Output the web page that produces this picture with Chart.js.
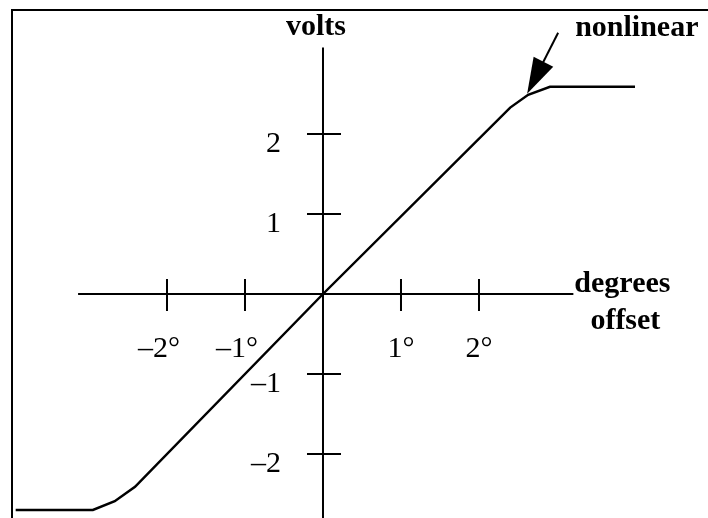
<!DOCTYPE html>
<html>
<head>
<meta charset="utf-8">
<script src="https://cdn.jsdelivr.net/npm/chart.js@4.4.1/dist/chart.umd.min.js"></script>
<style>
  html, body { margin: 0; padding: 0; background: #fff; overflow: hidden; }
  #wrap { position: relative; width: 708px; height: 518px; overflow: hidden; }
  #frame { position: absolute; left: 11px; top: 9px; width: 720px; height: 540px;
           border-left: 2px solid #000; border-top: 2px solid #000; pointer-events: none; }
</style>
</head>
<body>
<div id="wrap">
  <canvas id="chart"></canvas>
  <div id="frame"></div>
</div>
<script>
// response curve (degrees offset -> volts)
const offsetDeg = [-3.94, -2.95, -2.67, -2.41, 0, 2.40, 2.63, 2.91, 4.0];
const volts = [-2.70, -2.70, -2.59, -2.41, 0, 2.33, 2.49, 2.59, 2.59];

const xTicks = [-2, -1, 1, 2];
const xTickLabels = ['\u20132\u00B0', '\u20131\u00B0', '1\u00B0', '2\u00B0'];
const yTicks = [-2, -1, 1, 2];
const yTickLabels = ['\u20132', '\u20131', '1', '2'];

const xAxisRange = [-3.14, 3.21];
const yAxisRange = [-2.8, 3.08];
const nonlinearIndex = 6; // point the arrow points at

const serif = "'Liberation Serif', 'Times New Roman', serif";

// draws the crossing axes, tick crosses, labels and the arrow
const crossAxes = {
  id: 'crossAxes',
  afterDatasetsDraw(chart) {
    const { ctx, scales: { x, y } } = chart;
    const x0 = x.getPixelForValue(0);
    const y0 = y.getPixelForValue(0);

    ctx.save();
    ctx.strokeStyle = '#000';
    ctx.lineWidth = 2;
    ctx.beginPath();
    ctx.moveTo(x.getPixelForValue(xAxisRange[0]), y0);
    ctx.lineTo(x.getPixelForValue(xAxisRange[1]), y0);
    ctx.moveTo(x0, y.getPixelForValue(yAxisRange[0]));
    ctx.lineTo(x0, y.getPixelForValue(yAxisRange[1]));
    xTicks.forEach(v => {
      const px = x.getPixelForValue(v);
      ctx.moveTo(px, y0 - 15);
      ctx.lineTo(px, y0 + 17);
    });
    yTicks.forEach(v => {
      const py = y.getPixelForValue(v);
      ctx.moveTo(x0 - 16, py);
      ctx.lineTo(x0 + 18, py);
    });
    ctx.stroke();

    // tick labels
    ctx.fillStyle = '#000';
    ctx.font = '30px ' + serif;
    ctx.textBaseline = 'alphabetic';
    ctx.textAlign = 'center';
    xTicks.forEach((v, i) => {
      const px = x.getPixelForValue(v) + (v < 0 ? -8 : 0);
      ctx.fillText(xTickLabels[i], px, y0 + 63);
    });
    ctx.textAlign = 'right';
    yTicks.forEach((v, i) => {
      ctx.fillText(yTickLabels[i], x0 - 42, y.getPixelForValue(v) + 18);
    });

    // axis titles
    ctx.font = 'bold 30px ' + serif;
    ctx.textAlign = 'center';
    ctx.fillText('volts', x0 - 7, 35);
    const xEnd = x.getPixelForValue(xAxisRange[1]);
    ctx.textAlign = 'left';
    ctx.fillText('degrees', xEnd + 1, y0 - 2);
    ctx.textAlign = 'center';
    ctx.fillText('offset', xEnd + 52, y0 + 35);

    // arrow to the nonlinear bend
    const tx = x.getPixelForValue(offsetDeg[nonlinearIndex]) - 1;
    const ty = y.getPixelForValue(volts[nonlinearIndex]) - 1;
    const dx = 31, dy = -61;
    const len = Math.hypot(dx, dy);
    const ux = dx / len, uy = dy / len;
    ctx.beginPath();
    ctx.moveTo(tx + ux * 30, ty + uy * 30);
    ctx.lineTo(tx + dx, ty + dy);
    ctx.stroke();
    const hl = 36, hw = 11;
    ctx.beginPath();
    ctx.moveTo(tx, ty);
    ctx.lineTo(tx + ux * hl - uy * hw, ty + uy * hl + ux * hw);
    ctx.lineTo(tx + ux * hl + uy * hw, ty + uy * hl - ux * hw);
    ctx.closePath();
    ctx.fill();
    ctx.textAlign = 'left';
    ctx.fillText('nonlinear', tx + 48, 36);
    ctx.restore();
  }
};

new Chart(document.getElementById('chart'), {
  type: 'scatter',
  data: {
    datasets: [{
      data: offsetDeg.map((v, i) => ({ x: v, y: volts[i] })),
      showLine: true,
      borderColor: '#000',
      borderWidth: 2.5,
      pointRadius: 0,
      tension: 0,
      clip: false
    }]
  },
  options: {
    responsive: true,
    maintainAspectRatio: false,
    animation: false,
    layout: { padding: 0 },
    plugins: { legend: { display: false }, tooltip: { enabled: false } },
    scales: {
      x: { type: 'linear', min: -4.141, max: 4.936, display: false },
      y: { type: 'linear', min: -2.8, max: 3.675, display: false }
    }
  },
  plugins: [crossAxes]
});
</script>
</body>
</html>
